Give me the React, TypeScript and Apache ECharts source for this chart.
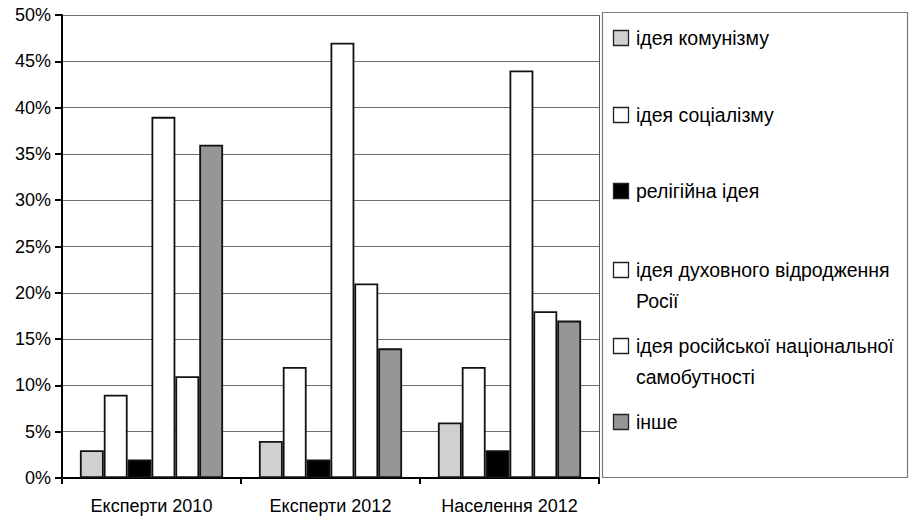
import React, { useEffect, useRef } from "react";
import * as echarts from "echarts";

const categories = ["Експерти 2010", "Експерти 2012", "Населення 2012"];
const seriesNames = [
  "ідея комунізму",
  "ідея соціалізму",
  "релігійна ідея",
  "ідея духовного відродження Росії",
  "ідея російської національної самобутності",
  "інше",
];
const legendLines = [
  ["ідея комунізму"],
  ["ідея соціалізму"],
  ["релігійна ідея"],
  ["ідея духовного відродження", "Росії"],
  ["ідея російської національної", "самобутності"],
  ["інше"],
];
const communism = [3, 4, 6];
const socialism = [9, 12, 12];
const religious = [2, 2, 3];
const revival = [39, 47, 44];
const identity = [11, 21, 18];
const other = [36, 14, 17];
const values = [communism, socialism, religious, revival, identity, other];
const colors = ["#d0d0d0", "#ffffff", "#000000", "#ffffff", "#ffffff", "#969696"];
const yTicks = [0, 5, 10, 15, 20, 25, 30, 35, 40, 45, 50];

const FONT = "'Liberation Sans', Arial, sans-serif";

export default function App() {
  const ref = useRef<HTMLDivElement>(null);
  useEffect(() => {
    if (!ref.current) return;
    const chart = echarts.init(ref.current, null, { renderer: "svg" });
    const legendY = [38, 115, 191, 270, 346, 422];
    const graphics: any[] = [
      {
        type: "rect",
        shape: { x: 602.5, y: 12.5, width: 305, height: 465 },
        style: { fill: "#fff", stroke: "#7a7a7a", lineWidth: 1.2 },
        z: 1,
      },
      {
        type: "line",
        shape: { x1: 599.5, y1: 15, x2: 599.5, y2: 478 },
        style: { stroke: "#555", lineWidth: 1 },
        z: 1,
      },
    ];
    legendLines.forEach((lines, i) => {
      const cy = legendY[i];
      graphics.push({
        type: "rect",
        shape: { x: 613.5, y: cy - 7.5, width: 15, height: 15 },
        style: { fill: colors[i], stroke: "#222", lineWidth: 1.3 },
        z: 2,
      });
      lines.forEach((ln, j) => {
        graphics.push({
          type: "text",
          x: 636,
          y: cy + j * 31,
          style: {
            text: ln,
            fill: "#000",
            font: `19.5px ${FONT}`,
            textVerticalAlign: "middle",
            verticalAlign: "middle",
          },
          z: 2,
        });
      });
    });
    chart.setOption({
      animation: false,
      backgroundColor: "#fff",
      grid: { left: 62, top: 15, right: 313, bottom: 46, containLabel: false },
      xAxis: {
        type: "category",
        data: categories,
        boundaryGap: true,
        axisLine: { show: true, lineStyle: { color: "#000", width: 2 } },
        axisTick: { show: true, alignWithLabel: false, length: 6, lineStyle: { color: "#000", width: 2 } },
        axisLabel: { color: "#000", fontSize: 18, fontFamily: FONT, margin: 19 },
        splitLine: { show: false },
      },
      yAxis: {
        type: "value",
        min: 0,
        max: 50,
        interval: 5,
        axisLine: { show: true, lineStyle: { color: "#000", width: 2 } },
        axisTick: { show: true, length: 7, lineStyle: { color: "#000", width: 2 } },
        axisLabel: {
          color: "#000",
          fontSize: 18,
          fontFamily: FONT,
          margin: 11,
          formatter: (v: number) => (yTicks.includes(v) ? v + "%" : ""),
        },
        splitLine: { show: true, lineStyle: { color: "#6e6e6e", width: 1 } },
      },
      series: seriesNames.map((name, i) => ({
        name,
        type: "bar",
        data: values[i],
        barGap: "0%",
        barCategoryGap: "20%",
        itemStyle: { color: colors[i], borderColor: "#111", borderWidth: 1.8 },
        emphasis: { disabled: true },
      })),
      graphic: graphics,
    });
    return () => chart.dispose();
  }, []);
  return (
    <div
      ref={ref}
      style={{ position: "fixed", left: 0, top: 0, width: 912, height: 524 }}
    />
  );
}
